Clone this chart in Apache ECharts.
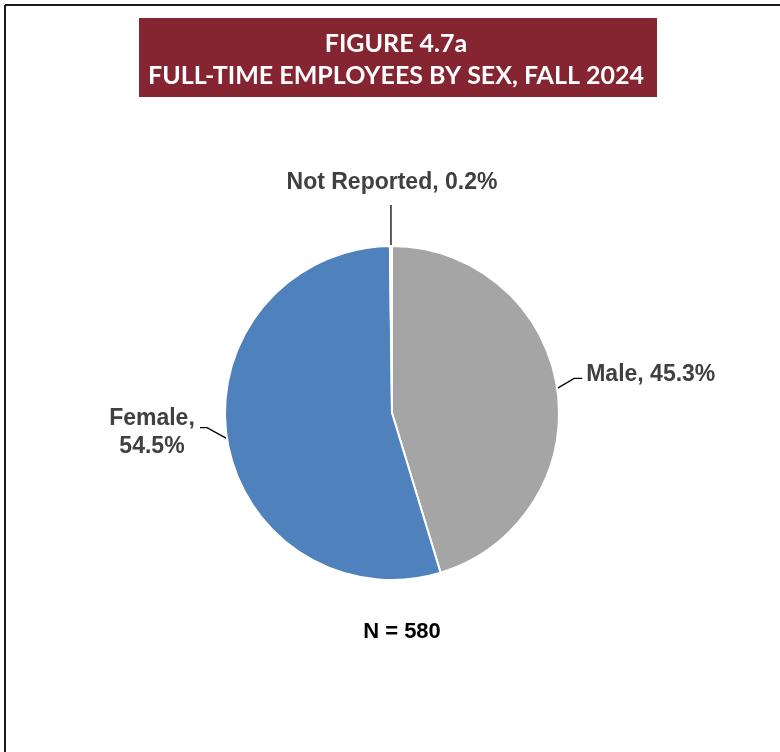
<!DOCTYPE html>
<html>
<head>
<meta charset="utf-8">
<script src="https://cdn.jsdelivr.net/npm/echarts@6/dist/echarts.min.js"></script>
<style>
  html, body { margin: 0; padding: 0; background: #fff; }
  #chart { width: 780px; height: 752px; }
</style>
</head>
<body>
<div id="chart"></div>
<script>
  // slices in drawing order, clockwise from 12 o'clock
  const categories = ['Male', 'Female', 'Not Reported'];
  const percents = [45.3, 54.5, 0.2];
  const colors = ['#a5a5a5', '#4f81bd', '#4f81bd'];
  const titleLines = ['FIGURE 4.7a', 'FULL-TIME EMPLOYEES BY SEX, FALL 2024'];
  const countNote = 'N = 580';

  const chart = echarts.init(document.getElementById('chart'));

  const pieData = categories.map((name, i) => ({
    name: name,
    value: percents[i],
    itemStyle: { color: colors[i] }
  }));

  // where each label sits relative to the point the library puts on the pie edge
  const labelPlace = [
    { dx: 29, dy: -14, align: 'left', bend: [[17, -10], [25, -10]], w: 1.3 },    // Male
    { dx: -75, dy: -6, align: 'center', bend: [[-20, -11], [-27, -11]], w: 1.3 }, // Female
    { dx: 1, dy: -63, align: 'center', bend: [[0, -41]], w: 2 }                   // Not Reported
  ];

  const options = {
    backgroundColor: '#fff',
    animation: false,
    graphic: [
      { type: 'line', shape: { x1: 5, y1: 5, x2: 780, y2: 5 }, style: { stroke: '#1a1a1a', lineWidth: 2 } },
      { type: 'line', shape: { x1: 5, y1: 5, x2: 5, y2: 752 }, style: { stroke: '#1a1a1a', lineWidth: 2 } },
      { type: 'rect', shape: { x: 139, y: 18, width: 518, height: 79 }, style: { fill: '#862532' } },
      {
        type: 'text', x: 396, y: 44,
        style: { text: titleLines[0], fill: '#fff', font: 'bold 25px Lato, "Open Sans", sans-serif', align: 'center', verticalAlign: 'middle' }
      },
      {
        type: 'text', x: 396, y: 76,
        style: { text: titleLines[1], fill: '#fff', font: 'bold 25px Lato, "Open Sans", sans-serif', align: 'center', verticalAlign: 'middle' }
      },
      {
        type: 'text', x: 402, y: 632,
        style: { text: countNote, fill: '#000', font: 'bold 22px "Liberation Sans", Arial, sans-serif', align: 'center', verticalAlign: 'middle' }
      }
    ],
    series: [{
      type: 'pie',
      center: [392, 413],
      radius: 167,
      startAngle: 90,
      clockwise: true,
      data: pieData,
      itemStyle: { borderColor: '#fff', borderWidth: 2 },
      label: {
        show: true,
        position: 'outside',
        color: '#404040',
        fontFamily: '"Liberation Sans", Arial, sans-serif',
        fontWeight: 'bold',
        fontSize: 23,
        lineHeight: 28,
        formatter: function (p) {
          if (p.name === 'Female') return p.name + ',\n' + p.value + '%';
          return p.name + ', ' + p.value + '%';
        }
      },
      labelLine: {
        show: true,
        length: 10,
        length2: 10,
        lineStyle: { color: '#000', width: 1.3 }
      },
      labelLayout: function (params) {
        const pl = labelPlace[params.dataIndex];
        const pts = params.labelLinePoints;
        if (!pts) return {};
        const start = pts[0];
        const line = [start].concat(pl.bend.map(b => [start[0] + b[0], start[1] + b[1]]));
        return {
          x: start[0] + pl.dx,
          y: start[1] + pl.dy,
          align: pl.align,
          verticalAlign: 'middle',
          labelLinePoints: line
        };
      }
    }]
  };

  chart.setOption(options);
</script>
</body>
</html>
